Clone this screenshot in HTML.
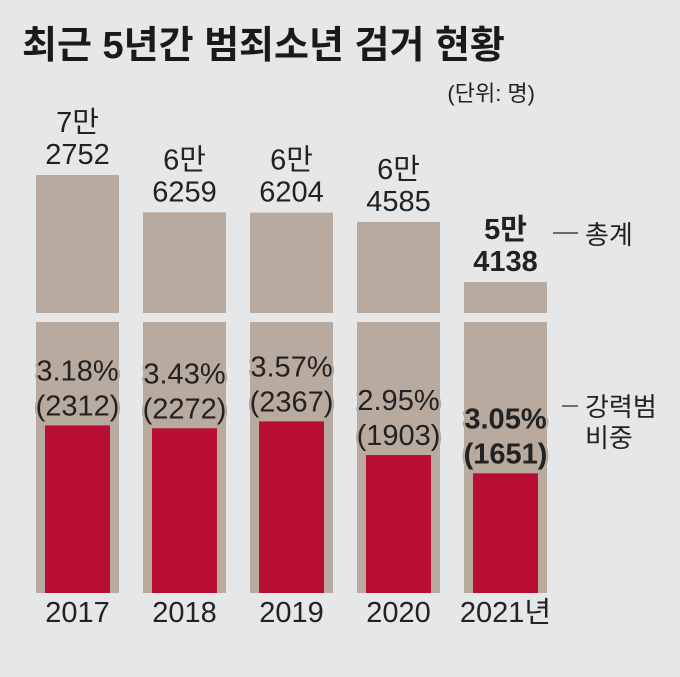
<!DOCTYPE html>
<html><head><meta charset="utf-8">
<style>
body{margin:0;background:#e6e7e9;}
svg{display:block;font-family:"Liberation Sans","Noto Sans CJK KR",sans-serif;}
.lbl{font-size:29px;fill:#222;text-anchor:middle;}
.pct{font-size:29px;fill:#222;text-anchor:middle;paint-order:stroke;stroke:#b9aa9f;stroke-width:5px;stroke-linejoin:round;}
</style></head>
<body>
<svg id="chart" width="680" height="677">
<rect width="680" height="677" fill="#e6e7e9"/>
<text x="22" y="58" font-size="38" font-weight="bold" fill="#1a1a1a">최근 5년간 범죄소년 검거 현황</text>
<text x="535" y="101" font-size="22" fill="#222" text-anchor="end">(단위: 명)</text>
<g id="bars"></g>
<line x1="553" y1="233" x2="578" y2="233" stroke="#222" stroke-width="1.2"/>
<text x="585" y="244" font-size="26" fill="#222">총계</text>
<line x1="562" y1="406" x2="578" y2="406" stroke="#222" stroke-width="1.2"/>
<text x="585" y="416" font-size="26" fill="#222">강력범</text>
<text x="585" y="447" font-size="26" fill="#222">비중</text>
</svg>
<script>
const years=["2017","2018","2019","2020","2021년"];
const totals=[72752,66259,66204,64585,54138];
const totalLabelsTop=["7만","6만","6만","6만","5만"];
const totalLabelsBot=["2752","6259","6204","4585","4138"];
const violent=[2312,2272,2367,1903,1651];
const pctLabels=["3.18%","3.43%","3.57%","2.95%","3.05%"];
const NS="http://www.w3.org/2000/svg";
const g=document.getElementById('bars');
const base=593, brkBot=313, brkTop=322;
function xLeft(i){return 36+i*107;}
function yTotal(v){return 175+(72752-v)*0.00575;}
function hViolent(v){return v*0.0725;}
function mk(tag,attrs){const e=document.createElementNS(NS,tag);for(const k in attrs)e.setAttribute(k,attrs[k]);g.appendChild(e);return e;}
for(let i=0;i<years.length;i++){
  const x=xLeft(i),w=83,cx=x+w/2;
  const yt=yTotal(totals[i]);
  let r=mk('rect',{x:x,y:yt,width:w,height:brkBot-yt,fill:'#b9aa9f'});
  
  
  r=mk('rect',{x:x,y:brkTop,width:w,height:base-brkTop,fill:'#b9aa9f'});
  
  
  const hv=hViolent(violent[i]);
  r=mk('rect',{x:x+9,y:base-hv,width:w-18,height:hv,fill:'#b90e33'});
  
  
  const bold=i===4?'bold':'normal';
  let t=mk('text',{x:cx,y:yt-43,'class':'lbl','font-weight':bold});t.textContent=totalLabelsTop[i];
  
  
  t=mk('text',{x:cx,y:yt-11,'class':'lbl','font-weight':bold});t.textContent=totalLabelsBot[i];
  
  
  const yp=base-hv;
  t=mk('text',{x:cx,y:yp-45,'class':'pct','font-weight':bold});t.textContent=pctLabels[i];
  
  
  t=mk('text',{x:cx,y:yp-10,'class':'pct','font-weight':bold});t.textContent='('+violent[i]+')';
  
  
  t=mk('text',{x:cx,y:622,'class':'lbl','font-size':'25'});t.textContent=years[i];
  
  
}
</script>
</body></html>
